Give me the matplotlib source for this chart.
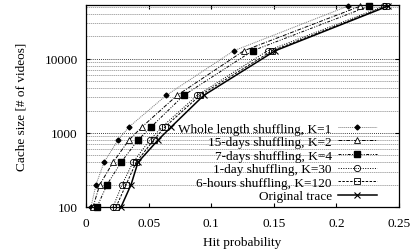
import matplotlib
matplotlib.use("Agg")
import matplotlib.pyplot as plt
import numpy as np

plt.rcParams['font.family'] = ['Liberation Serif', 'DejaVu Serif']

# cache sizes (y) shared by all series
cache = [100, 200, 400, 800, 1200, 3200, 12800, 51200]

whole = [0.004, 0.008, 0.0144, 0.0256, 0.0343, 0.064, 0.118, 0.209]
days15 = [0.0056, 0.011, 0.0216, 0.0343, 0.0447, 0.0727, 0.126, 0.219]
days7 = [0.0088, 0.0168, 0.028, 0.0415, 0.052, 0.078, 0.133, 0.226]
day1 = [0.0216, 0.0288, 0.0375, 0.051, 0.0607, 0.0887, 0.145, 0.238]
hours6 = [0.024, 0.032, 0.040, 0.054, 0.063, 0.091, 0.1486, 0.240]
original = [0.028, 0.036, 0.0415, 0.0575, 0.068, 0.094, 0.151, 0.241]

labels = ["Whole length shuffling, K=1", "15-days shuffling, K=2",
          "7-days shuffling, K=4", "1-day shuffling, K=30",
          "6-hours shuffling, K=120", "Original trace"]

fig = plt.figure(figsize=(4.14, 2.53), dpi=100)
ax = fig.add_axes([0.2077, 0.178, 0.7561, 0.798])

ax.plot(whole, cache, color='#777777', lw=0.7, ls=(0, (1, 1)), marker='D',
        ms=2.5, mfc='black', mec='black', label=labels[0], clip_on=False)
ax.plot(days15, cache, color='black', lw=0.7, ls=(0, (4, 1.5, 1, 1.5)), marker='^',
        ms=4, mfc='white', mec='black', mew=0.6, label=labels[1], clip_on=False)
ax.plot(days7, cache, color='black', lw=0.7, ls=(0, (3, 1.5, 1, 1.5, 1, 1.5)), marker='s',
        ms=4.5, mfc='black', mec='black', label=labels[2], clip_on=False)
ax.plot(day1, cache, color='black', lw=0.7, ls=(0, (1, 1.5)), marker='o',
        ms=4.5, mfc='none', mec='black', mew=0.6, label=labels[3], clip_on=False)
ax.plot(hours6, cache, color='black', lw=0.7, ls=(0, (2.5, 1.5)), marker='s',
        ms=4.5, mfc='none', mec='black', mew=0.6, label=labels[4], clip_on=False)
ax.plot(original, cache, color='black', lw=1.1, ls='-', marker='x',
        ms=4, mec='black', mew=0.8, label=labels[5], clip_on=False)

ax.set_yscale('log')
ax.set_xlim(0, 0.25)
ax.set_ylim(100, 53000)
ax.set_xticks([0, 0.05, 0.1, 0.15, 0.2, 0.25])
ax.set_xticklabels(["0", "0.05", "0.1", "0.15", "0.2", "0.25"])
ax.set_yticks([100, 1000, 10000])
ax.set_yticklabels(["100", "1000", "10000"])
ax.yaxis.set_minor_formatter(matplotlib.ticker.NullFormatter())

# horizontal grid: dotted at decades, dashed gray at minor ticks
ax.grid(True, which='major', axis='y', color='black', ls=(0, (1, 1.5)), lw=0.6)
ax.grid(True, which='minor', axis='y', color='#888888', ls=(0, (2, 1)), lw=0.5)

ax.tick_params(which='both', direction='in', top=True, right=True, labelsize=9.5)
ax.tick_params(which='major', length=3)
ax.tick_params(axis='x', pad=7)
ax.tick_params(axis='y', pad=6)
ax.tick_params(which='minor', length=0)
for s in ax.spines.values():
    s.set_linewidth(0.9)

ax.set_xlabel("Hit probability", fontsize=9.5, labelpad=5)
ax.set_ylabel("Cache size [# of videos]", fontsize=9.5, labelpad=12)

leg = ax.legend(loc='lower right', frameon=False, markerfirst=False, fontsize=9.5,
                handlelength=2.9, labelspacing=0.1, borderaxespad=0.0,
                handletextpad=0.5, bbox_to_anchor=(0.945, -0.003))
leg.set_zorder(5)

fig.savefig("out.png", dpi=100)
